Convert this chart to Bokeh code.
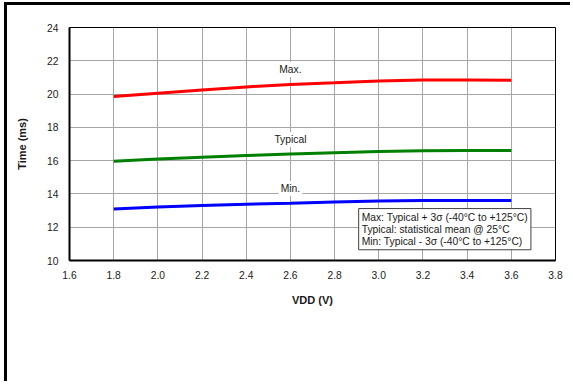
from bokeh.plotting import figure
from bokeh.models import Range1d, FixedTicker, Label
from bokeh.embed import file_html
from bokeh.resources import INLINE

# ---- data ----
vdd = [1.8, 2.0, 2.2, 2.4, 2.6, 2.8, 3.0, 3.2, 3.4, 3.6]
t_max = [19.85, 20.05, 20.25, 20.43, 20.58, 20.68, 20.79, 20.85, 20.85, 20.83]
t_typ = [15.97, 16.10, 16.21, 16.31, 16.40, 16.48, 16.55, 16.60, 16.61, 16.61]
t_min = [13.10, 13.21, 13.30, 13.38, 13.44, 13.52, 13.57, 13.60, 13.61, 13.61]

x_ticks = [1.6, 1.8, 2.0, 2.2, 2.4, 2.6, 2.8, 3.0, 3.2, 3.4, 3.6, 3.8]
x_tick_labels = ["1.6", "1.8", "2.0", "2.2", "2.4", "2.6", "2.8", "3.0", "3.2", "3.4", "3.6", "3.8"]
y_ticks = [10, 12, 14, 16, 18, 20, 22, 24]
y_tick_labels = ["10", "12", "14", "16", "18", "20", "22", "24"]

series_names = ["Max.", "Typical", "Min."]
series_colors = ["#ff0000", "#008000", "#0000ff"]
series_label_x = [2.6, 2.6, 2.6]
series_label_y = [21.48, 17.27, 14.32]

legend_lines = [
    "Max: Typical + 3\u03c3 (-40\u00b0C to +125\u00b0C)",
    "Typical: statistical mean @ 25\u00b0C",
    "Min: Typical - 3\u03c3 (-40\u00b0C to +125\u00b0C)",
]

FONT = "Liberation Sans"
TXT = "#1a1a1a"

p = figure(width=566, height=379, output_backend="svg", toolbar_location=None,
           x_range=Range1d(1.6, 3.8), y_range=Range1d(10, 24),
           min_border_left=62, min_border_right=18, min_border_top=22, min_border_bottom=124)
p.styles = {"margin-left": "4px", "margin-top": "2px",
            "border-left": "3px solid black", "border-top": "3px solid black"}

p.outline_line_color = "black"
p.outline_line_width = 1
p.background_fill_color = "white"
p.border_fill_color = "white"

p.xaxis.ticker = FixedTicker(ticks=x_ticks)
p.yaxis.ticker = FixedTicker(ticks=y_ticks)
p.xaxis.major_label_overrides = {t: l for t, l in zip(x_ticks, x_tick_labels)}
p.yaxis.major_label_overrides = {t: l for t, l in zip(y_ticks, y_tick_labels)}

for ax in (p.xaxis, p.yaxis):
    ax.axis_line_color = "black"
    ax.axis_line_width = 2
    ax.major_tick_line_color = None
    ax.minor_tick_line_color = None
    ax.major_tick_out = 0
    ax.major_tick_in = 0
    ax.major_label_text_font = FONT
    ax.major_label_text_font_size = "10.3px"
    ax.major_label_text_color = TXT

p.xaxis.major_label_standoff = 10
p.yaxis.major_label_standoff = 11

p.yaxis.axis_label = "Time (ms)"
p.yaxis.axis_label_text_font = FONT
p.yaxis.axis_label_text_font_style = "bold"
p.yaxis.axis_label_text_font_size = "11px"
p.yaxis.axis_label_text_color = TXT
p.yaxis.axis_label_standoff = 16

p.xaxis.axis_label = "VDD (V)"
p.xaxis.axis_label_text_font = FONT
p.xaxis.axis_label_text_font_style = "bold"
p.xaxis.axis_label_text_font_size = "11px"
p.xaxis.axis_label_text_color = TXT
p.xaxis.axis_label_standoff = 12

p.xgrid.grid_line_color = "#a6a6a6"
p.ygrid.grid_line_color = "#a6a6a6"
p.xgrid.grid_line_width = 1
p.ygrid.grid_line_width = 1

for ys, col in zip([t_max, t_typ, t_min], series_colors):
    p.line(vdd, ys, line_color=col, line_width=3)

for name, lx, ly in zip(series_names, series_label_x, series_label_y):
    p.add_layout(Label(x=lx, y=ly, text=name, text_align="center", text_baseline="middle",
                       text_font=FONT, text_font_size="10.3px", text_color=TXT,
                       background_fill_color="white", padding=2))

p.add_layout(Label(x=2.909, y=13.12, text="\n".join(legend_lines),
                   text_align="left", text_baseline="top",
                   text_font=FONT, text_font_size="10.3px", text_color=TXT,
                   text_line_height=1.1,
                   background_fill_color="white", border_line_color="#404040",
                   border_line_width=1, padding=3))

open("out.html", "w").write(file_html(p, INLINE))
